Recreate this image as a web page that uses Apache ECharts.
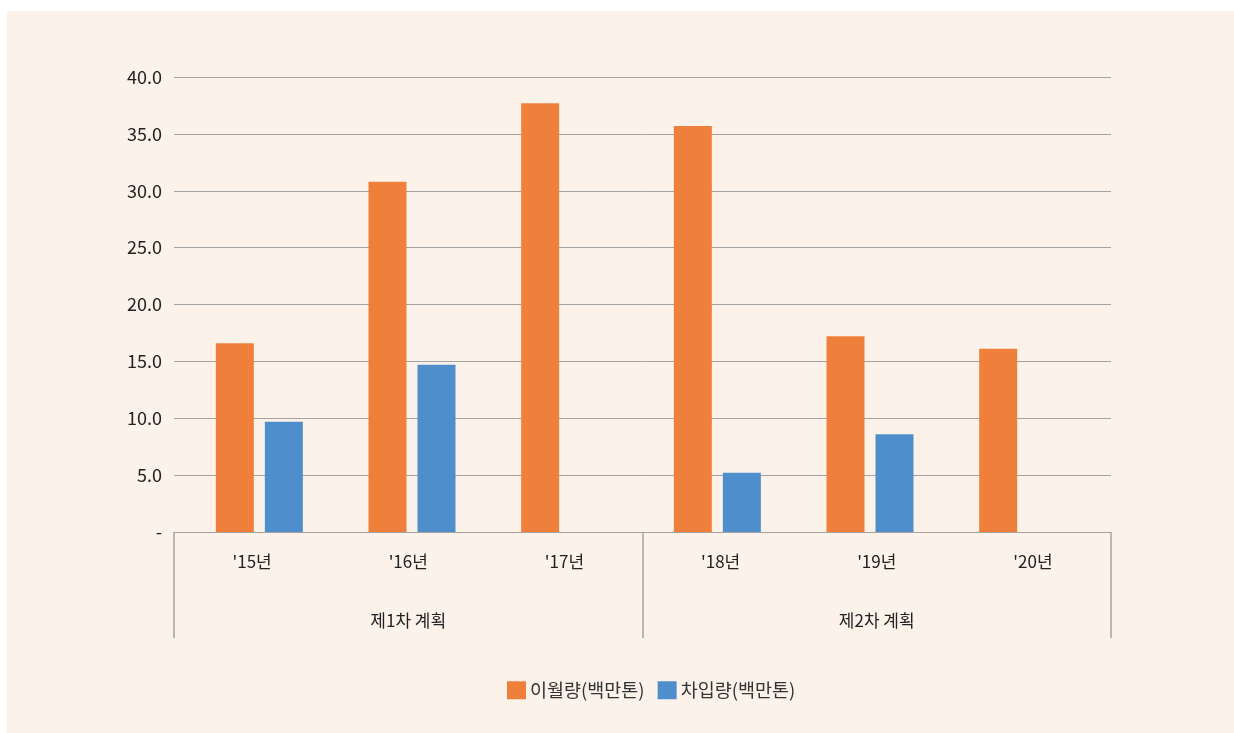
<!DOCTYPE html>
<html>
<head>
<meta charset="utf-8">
<script src="https://cdn.jsdelivr.net/npm/echarts@6/dist/echarts.min.js"></script>
<style>
  html, body { margin: 0; padding: 0; background: #ffffff; }
  .panel { position: absolute; left: 7px; top: 11px; right: 0; bottom: 0; background: #fdf2ea; }
  #chart { position: absolute; left: 0; top: 0; width: 1234px; height: 733px; }
</style>
</head>
<body>
<div class="panel"></div>
<div id="chart"></div>
<script>
// 연도별 이월량 / 차입량 (백만톤)
const years = ["'15년", "'16년", "'17년", "'18년", "'19년", "'20년"]
const plans = ['제1차 계획', '제2차 계획']
const carryOver = [16.6, 30.8, 37.7, 35.7, 17.2, 16.1] // 이월량
const borrowing = [9.7, 14.7, null, 5.2, 8.6, null] // 차입량
const yTicks = [0, 5, 10, 15, 20, 25, 30, 35, 40]

const font = '"Noto Sans CJK KR", "Noto Sans", sans-serif'
const lineColor = '#a3a3a3'

const myChart = echarts.init(document.getElementById('chart'))
const option = {
  textStyle: { fontFamily: font },
  grid: [
    // 축, 눈금선, 라벨용
    { left: 174, right: 123, top: 77, bottom: 201 },
    // 막대용 (엑셀처럼 조금 좁게)
    { left: 183, width: 916, top: 77, bottom: 201 }
  ],
  legend: {
    left: 507,
    top: 681,
    padding: 0,
    itemWidth: 19,
    itemHeight: 18,
    itemGap: 13,
    icon: 'rect',
    textStyle: { fontSize: 18.5, color: '#333', fontFamily: font, padding: [0, 0, 0, -1] },
    data: ['이월량(백만톤)', '차입량(백만톤)']
  },
  xAxis: [
    {
      gridIndex: 0,
      type: 'category',
      position: 'bottom',
      offset: 0,
      data: years,
      axisLine: { show: true, lineStyle: { color: lineColor, width: 1 } },
      axisTick: { show: false },
      axisLabel: { margin: 21, fontSize: 17, color: '#222', fontFamily: font }
    },
    {
      gridIndex: 0,
      type: 'category',
      position: 'bottom',
      offset: 0,
      data: plans,
      axisLine: { show: false },
      axisTick: { show: true, length: 106, lineStyle: { color: lineColor, width: 1.5 } },
      axisLabel: { margin: 80, fontSize: 17, color: '#222', fontFamily: font }
    },
    {
      gridIndex: 1,
      type: 'category',
      data: years,
      show: false
    }
  ],
  yAxis: [
    {
      gridIndex: 0,
      type: 'value',
      min: 0,
      max: yTicks[yTicks.length - 1],
      interval: yTicks[1] - yTicks[0],
      axisLine: { show: false },
      axisTick: { show: false },
      axisLabel: {
        margin: 12,
        fontSize: 18,
        color: '#222',
        fontFamily: font,
        formatter: v => (v === 0 ? '-' : v.toFixed(1))
      },
      splitLine: { show: true, lineStyle: { color: lineColor, width: 1 } }
    },
    {
      gridIndex: 1,
      type: 'value',
      min: 0,
      max: yTicks[yTicks.length - 1],
      show: false,
      splitLine: { show: false }
    }
  ],
  series: [
    {
      name: '이월량(백만톤)',
      type: 'bar',
      xAxisIndex: 2,
      yAxisIndex: 1,
      barWidth: 38,
      barGap: '29%',
      itemStyle: { color: '#ef803b' },
      data: carryOver
    },
    {
      name: '차입량(백만톤)',
      type: 'bar',
      xAxisIndex: 2,
      yAxisIndex: 1,
      barWidth: 38,
      barGap: '29%',
      itemStyle: { color: '#4e8ecd' },
      data: borrowing
    }
  ]
}
myChart.setOption(option)
window.onresize = () => {
  myChart.resize()
}
</script>
</body>
</html>
